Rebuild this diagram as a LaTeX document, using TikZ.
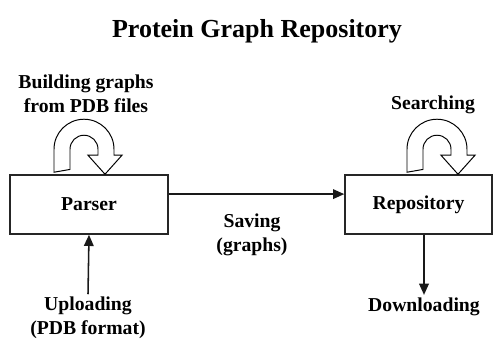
\documentclass[tikz,border=0pt]{standalone}
\usepackage{fontspec}
\setmainfont{Liberation Serif}
\usetikzlibrary{arrows.meta,positioning,calc}

\begin{document}
\begin{tikzpicture}[
    font=\bfseries\fontsize{14}{17}\selectfont,
    >=Latex,
    title/.style={font=\bfseries\fontsize{18.5}{22}\selectfont, align=center},
    lbl/.style={align=center, inner sep=2pt},
    box/.style={draw=black!85, line width=1.1pt, minimum height=1.475cm, align=center},
    arrow/.style={-{Triangle[length=2.8mm, width=2.4mm]}, line width=1.1pt, draw=black!90},
    uturn/.pic={
        \draw[line width=0.7pt, fill=white] (-1.275,0.05) -- (-1.275,0.625)
            arc[start angle=180, end angle=0, radius=0.75] -- (0.225,0.475)
            -- (0.425,0.475) -- (0,0) -- (-0.425,0.475) -- (-0.175,0.475) -- (-0.175,0.625)
            arc[start angle=0, end angle=180, radius=0.35] -- (-0.875,0.12) -- cycle;
    }
]
\useasboundingbox (0,0) rectangle (12.35,8.475);
\node[title] (head) at (6.425,7.7) {Protein Graph Repository};
\node[box, minimum width=3.95cm] (parser) at (2.225,3.3625) {Parser};
\node[box, minimum width=3.675cm] (repo) at (10.4625,3.3625) {Repository};
\node[lbl] (build) at (2.15,6.125) {Building graphs\\from PDB files};
\node[lbl] (search) at (10.825,5.85) {Searching};
\node[lbl] (saving) at (6.3,2.6) {Saving\\(graphs)};
\node[lbl] (upload) at (2.2,0.52) {Uploading\\(PDB format)};
\node[lbl] (dl) at (10.6,0.8) {Downloading};
% loops on top of the boxes
\pic at ($(parser.north)+(0.4,0)$) {uturn};
\pic at ($(repo.north)+(0.9875,0)$) {uturn};
\draw[arrow] ([yshift=0.26cm]parser.east) -- ([yshift=0.26cm]repo.west);
\draw[arrow] (upload.north) -- (parser.south);
\draw[arrow] (repo.south -| dl.north) -- (dl.north);
\end{tikzpicture}
\end{document}
